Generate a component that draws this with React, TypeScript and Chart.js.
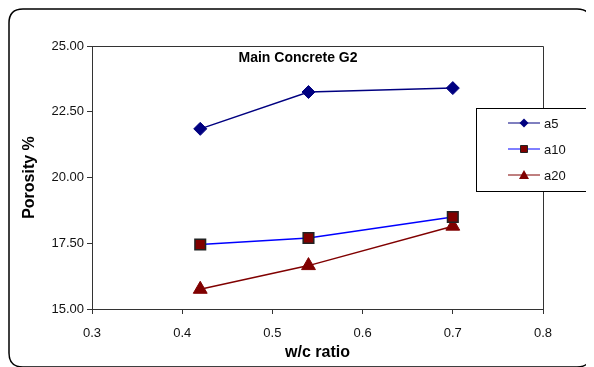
import React, { useEffect, useRef } from "react";
import { Chart, registerables } from "chart.js";

Chart.register(...registerables);

const wcRatio = [0.42, 0.54, 0.7];
const a5 = [21.85, 23.25, 23.4];
const a10 = [17.45, 17.7, 18.5];
const a20 = [15.75, 16.65, 18.15];
const seriesNames = ["a5", "a10", "a20"];
const chartTitle = "Main Concrete G2";
const xTitle = "w/c ratio";
const yTitle = "Porosity %";

const FONT = "'Liberation Sans', Arial, sans-serif";

const framePlugin = {
  id: "frame",
  afterDraw(chart: any) {
    const ctx = chart.ctx;
    const ca = chart.chartArea;
    const W = chart.width;
    const H = chart.height;
    ctx.save();
    // outer rounded border
    ctx.strokeStyle = "#000";
    ctx.lineWidth = 1.5;
    const r = 14;
    const x0 = 1, y0 = 1, x1 = W - 3, y1 = H + 0;
    ctx.beginPath();
    ctx.moveTo(x0 + r, y0);
    ctx.lineTo(x1 - r, y0);
    ctx.quadraticCurveTo(x1, y0, x1, y0 + r);
    ctx.lineTo(x1, y1 - r);
    ctx.quadraticCurveTo(x1, y1, x1 - r, y1);
    ctx.lineTo(x0 + r, y1);
    ctx.quadraticCurveTo(x0, y1, x0, y1 - r);
    ctx.lineTo(x0, y0 + r);
    ctx.quadraticCurveTo(x0, y0, x0 + r, y0);
    ctx.stroke();

    // plot top & right border
    ctx.lineWidth = 1;
    ctx.strokeStyle = "#333";
    ctx.beginPath();
    ctx.moveTo(ca.left, ca.top + 0.5);
    ctx.lineTo(Math.round(ca.right) + 0.5, ca.top + 0.5);
    ctx.lineTo(Math.round(ca.right) + 0.5, ca.bottom);
    ctx.stroke();

    // title
    ctx.fillStyle = "#000";
    ctx.font = `bold 14px ${FONT}`;
    ctx.textAlign = "center";
    ctx.textBaseline = "middle";
    ctx.fillText(chartTitle, 290, 50);

    // legend
    const lx = 468, ly = 100, lw = 114, lh = 83;
    ctx.fillStyle = "#fff";
    ctx.fillRect(lx, ly, lw, lh);
    ctx.strokeStyle = "#000";
    ctx.lineWidth = 1;
    ctx.strokeRect(lx + 0.5, ly + 0.5, lw, lh);
    const rows = [115, 141, 167];
    chart.data.datasets.forEach((ds: any, i: number) => {
      const y = rows[i];
      ctx.strokeStyle = ds.borderColor;
      ctx.lineWidth = 1;
      ctx.beginPath();
      ctx.moveTo(500, y);
      ctx.lineTo(532, y);
      ctx.stroke();
      const cx = 516;
      ctx.fillStyle = ds.pointBackgroundColor;
      ctx.strokeStyle = ds.pointBorderColor;
      ctx.lineWidth = 1;
      ctx.beginPath();
      if (ds.pointStyle === "rectRot") {
        ctx.moveTo(cx, y - 4.5);
        ctx.lineTo(cx + 4.5, y);
        ctx.lineTo(cx, y + 4.5);
        ctx.lineTo(cx - 4.5, y);
        ctx.closePath();
        ctx.fill();
      } else if (ds.pointStyle === "rect") {
        ctx.rect(cx - 3.5, y - 3.5, 7, 7);
        ctx.fill();
        ctx.stroke();
      } else {
        ctx.moveTo(cx, y - 5);
        ctx.lineTo(cx + 5, y + 4);
        ctx.lineTo(cx - 5, y + 4);
        ctx.closePath();
        ctx.fill();
      }
      ctx.fillStyle = "#111";
      ctx.font = `13px ${FONT}`;
      ctx.textAlign = "left";
      ctx.textBaseline = "middle";
      ctx.fillText(ds.label, 536, y + 1);
    });
    ctx.restore();
  },
};

export default function App() {
  const ref = useRef<HTMLCanvasElement>(null);
  useEffect(() => {
    if (!ref.current) return;
    const mk = (vals: number[]) => wcRatio.map((x, i) => ({ x, y: vals[i] }));
    const chart = new Chart(ref.current, {
      type: "scatter",
      data: {
        datasets: [
          {
            label: seriesNames[0],
            data: mk(a5),
            showLine: true,
            borderColor: "#000080",
            borderWidth: 1.5,
            pointStyle: "rectRot",
            pointRadius: 6.5,
            pointBackgroundColor: "#000080",
            pointBorderColor: "#000080",
            pointBorderWidth: 1,
          },
          {
            label: seriesNames[1],
            data: mk(a10),
            showLine: true,
            borderColor: "#0000ff",
            borderWidth: 1.5,
            pointStyle: "rect",
            pointRadius: 7.5,
            pointBackgroundColor: "#800000",
            pointBorderColor: "#222",
            pointBorderWidth: 1.5,
          },
          {
            label: seriesNames[2],
            data: mk(a20),
            showLine: true,
            borderColor: "#800000",
            borderWidth: 1.5,
            pointStyle: "triangle",
            pointRadius: 8,
            pointBackgroundColor: "#800000",
            pointBorderColor: "#800000",
            pointBorderWidth: 1,
          },
        ],
      },
      options: {
        animation: false,
        responsive: false,
        events: [],
        layout: { padding: { left: 10, top: 38, right: 51, bottom: 0 } },
        plugins: { legend: { display: false }, tooltip: { enabled: false }, title: { display: false } },
        scales: {
          x: {
            type: "linear",
            min: 0.3,
            max: 0.8,
            ticks: {
              stepSize: 0.1,
              color: "#111",
              font: { family: FONT, size: 13 },
              padding: 12,
              callback: (v: any) => Number(v).toFixed(1),
            },
            grid: { drawOnChartArea: false, drawTicks: true, tickLength: 5, color: "#333" },
            border: { color: "#333", width: 1 },
            title: {
              display: true,
              text: xTitle,
              color: "#000",
              font: { family: FONT, size: 16, weight: "bold" },
              padding: { top: 0, bottom: 5 },
            },
            afterFit: (s: any) => { s.height = 58; },
          },
          y: {
            type: "linear",
            min: 15,
            max: 25,
            ticks: {
              stepSize: 2.5,
              color: "#111",
              font: { family: FONT, size: 13 },
              padding: 3,
              callback: (v: any) => Number(v).toFixed(2),
            },
            grid: { drawOnChartArea: false, drawTicks: true, tickLength: 5, color: "#333" },
            border: { color: "#333", width: 1 },
            title: {
              display: true,
              text: yTitle,
              color: "#000",
              font: { family: FONT, size: 16, weight: "bold" },
              padding: { top: 2, bottom: 0 },
            },
            afterFit: (s: any) => { s.width = 74; },
          },
        },
      },
      plugins: [framePlugin],
    } as any);
    return () => chart.destroy();
  }, []);
  return (
    <div style={{ width: 586, height: 359 }}>
      <canvas ref={ref} width={586} height={359} style={{ display: "block", width: 586, height: 359 }} />
    </div>
  );
}
